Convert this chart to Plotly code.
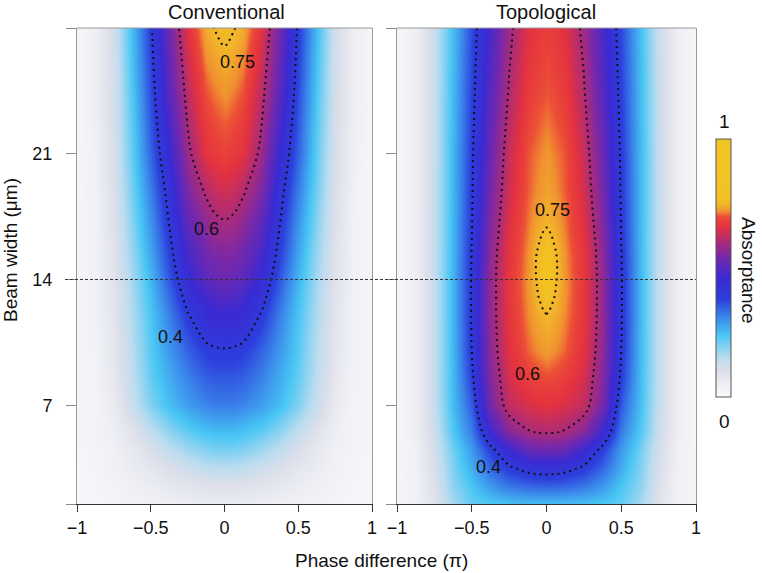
import plotly.graph_objects as go

# ---------------- data ----------------
phase = [-1.0, -0.875, -0.75, -0.625, -0.5, -0.375, -0.25, -0.125, -0.0625, 0.0,
         0.0625, 0.125, 0.25, 0.375, 0.5, 0.625, 0.75, 0.875, 1.0]
beam_width = [1.5, 2.5, 3.5, 4.5, 5.5, 7, 8.5, 10, 12, 13, 14, 15.5, 17, 19, 21, 24.5, 28]

absorp_conventional = [
    [0.012,0.018,0.026,0.034,0.041,0.048,0.054,0.058,0.060,0.060,0.060,0.058,0.054,0.048,0.041,0.034,0.026,0.018,0.012],
    [0.015,0.022,0.033,0.046,0.058,0.071,0.083,0.092,0.094,0.095,0.094,0.092,0.083,0.071,0.058,0.046,0.033,0.022,0.015],
    [0.015,0.025,0.040,0.060,0.080,0.102,0.125,0.143,0.148,0.150,0.148,0.143,0.125,0.102,0.080,0.060,0.040,0.025,0.015],
    [0.020,0.028,0.045,0.070,0.105,0.142,0.175,0.197,0.203,0.205,0.203,0.197,0.175,0.142,0.105,0.070,0.045,0.028,0.020],
    [0.020,0.030,0.050,0.090,0.140,0.187,0.222,0.243,0.248,0.250,0.248,0.243,0.222,0.187,0.140,0.090,0.050,0.030,0.020],
    [0.020,0.030,0.065,0.130,0.200,0.248,0.285,0.310,0.318,0.320,0.318,0.310,0.285,0.248,0.200,0.130,0.065,0.030,0.020],
    [0.020,0.035,0.075,0.145,0.220,0.268,0.315,0.348,0.353,0.355,0.353,0.348,0.315,0.268,0.220,0.145,0.075,0.035,0.020],
    [0.020,0.035,0.080,0.150,0.230,0.290,0.345,0.385,0.392,0.395,0.392,0.385,0.345,0.290,0.230,0.150,0.080,0.035,0.020],
    [0.020,0.040,0.085,0.160,0.240,0.315,0.395,0.445,0.456,0.460,0.456,0.445,0.395,0.315,0.240,0.160,0.085,0.040,0.020],
    [0.020,0.040,0.088,0.165,0.250,0.335,0.422,0.475,0.488,0.492,0.488,0.475,0.422,0.335,0.250,0.165,0.088,0.040,0.020],
    [0.020,0.040,0.090,0.170,0.260,0.355,0.450,0.505,0.520,0.525,0.520,0.505,0.450,0.355,0.260,0.170,0.090,0.040,0.020],
    [0.020,0.040,0.093,0.180,0.278,0.380,0.480,0.535,0.550,0.555,0.550,0.535,0.480,0.380,0.278,0.180,0.093,0.040,0.020],
    [0.020,0.040,0.097,0.192,0.295,0.400,0.510,0.565,0.585,0.592,0.585,0.565,0.510,0.400,0.295,0.192,0.097,0.040,0.020],
    [0.020,0.042,0.103,0.207,0.320,0.425,0.550,0.610,0.630,0.640,0.630,0.610,0.550,0.425,0.320,0.207,0.103,0.042,0.020],
    [0.020,0.045,0.110,0.220,0.345,0.455,0.585,0.660,0.675,0.685,0.675,0.660,0.585,0.455,0.345,0.220,0.110,0.045,0.020],
    [0.020,0.050,0.115,0.235,0.370,0.505,0.620,0.700,0.715,0.725,0.715,0.700,0.620,0.505,0.370,0.235,0.115,0.050,0.020],
    [0.020,0.050,0.120,0.250,0.390,0.530,0.660,0.740,0.752,0.760,0.752,0.740,0.660,0.530,0.390,0.250,0.120,0.050,0.020],
]

absorp_topological = [
    [0.020,0.040,0.090,0.170,0.220,0.235,0.245,0.250,0.250,0.250,0.250,0.250,0.245,0.235,0.220,0.170,0.090,0.040,0.020],
    [0.020,0.040,0.100,0.190,0.240,0.290,0.325,0.340,0.344,0.345,0.344,0.340,0.325,0.290,0.240,0.190,0.100,0.040,0.020],
    [0.020,0.045,0.105,0.200,0.270,0.340,0.390,0.420,0.428,0.430,0.428,0.420,0.390,0.340,0.270,0.200,0.105,0.045,0.020],
    [0.020,0.045,0.115,0.210,0.290,0.380,0.460,0.520,0.527,0.530,0.527,0.520,0.460,0.380,0.290,0.210,0.115,0.045,0.020],
    [0.020,0.050,0.125,0.235,0.320,0.460,0.560,0.595,0.602,0.605,0.602,0.595,0.560,0.460,0.320,0.235,0.125,0.050,0.020],
    [0.020,0.050,0.135,0.250,0.355,0.540,0.625,0.648,0.655,0.660,0.655,0.648,0.625,0.540,0.355,0.250,0.135,0.050,0.020],
    [0.020,0.050,0.135,0.255,0.385,0.555,0.642,0.680,0.690,0.696,0.690,0.680,0.642,0.555,0.385,0.255,0.135,0.050,0.020],
    [0.020,0.050,0.135,0.258,0.400,0.565,0.658,0.705,0.718,0.728,0.718,0.705,0.658,0.565,0.400,0.258,0.135,0.050,0.020],
    [0.020,0.050,0.135,0.260,0.405,0.570,0.667,0.718,0.738,0.748,0.738,0.718,0.667,0.570,0.405,0.260,0.135,0.050,0.020],
    [0.020,0.050,0.135,0.260,0.405,0.570,0.669,0.722,0.746,0.770,0.746,0.722,0.669,0.570,0.405,0.260,0.135,0.050,0.020],
    [0.020,0.050,0.135,0.260,0.405,0.570,0.670,0.724,0.753,0.785,0.753,0.724,0.670,0.570,0.405,0.260,0.135,0.050,0.020],
    [0.020,0.050,0.135,0.260,0.402,0.565,0.665,0.721,0.751,0.775,0.751,0.721,0.665,0.565,0.402,0.260,0.135,0.050,0.020],
    [0.020,0.050,0.135,0.259,0.397,0.552,0.655,0.713,0.735,0.748,0.735,0.713,0.655,0.552,0.397,0.259,0.135,0.050,0.020],
    [0.020,0.050,0.134,0.258,0.393,0.538,0.640,0.703,0.720,0.733,0.720,0.703,0.640,0.538,0.393,0.258,0.134,0.050,0.020],
    [0.020,0.050,0.133,0.258,0.390,0.525,0.630,0.700,0.713,0.725,0.713,0.700,0.630,0.525,0.390,0.258,0.133,0.050,0.020],
    [0.020,0.050,0.132,0.255,0.380,0.500,0.605,0.675,0.690,0.700,0.690,0.675,0.605,0.500,0.380,0.255,0.132,0.050,0.020],
    [0.020,0.050,0.130,0.250,0.370,0.480,0.585,0.655,0.670,0.680,0.670,0.655,0.585,0.480,0.370,0.250,0.130,0.050,0.020],
]

contour_levels = [0.4, 0.6, 0.75]
x_tickvals = [-1, -0.5, 0, 0.5, 1]
x_ticktext = ["\u22121", "\u22120.5", "0", "0.5", "1"]
y_tickvals = [1.5, 7, 14, 21, 28]
y_ticktext = ["", "7", "14", "21", ""]
panel_titles = ["Conventional", "Topological"]

# contour label text and positions (phase, beam width)
labels_conv = [("0.75", 0.088, 26.1), ("0.6", -0.12, 16.8), ("0.4", -0.365, 10.77)]
labels_topo = [("0.75", 0.037, 17.85), ("0.6", -0.13, 8.76), ("0.4", -0.39, 3.57)]

# ---------------- styling ----------------
W, H = 762, 573
FONT = "Liberation Sans, Arial, Helvetica, sans-serif"

colorscale = [
    [0.00, "#fafafc"],
    [0.05, "#eeeff4"],
    [0.10, "#dddfea"],
    [0.15, "#bcdcef"],
    [0.20, "#80d0f2"],
    [0.24, "#48c6f4"],
    [0.31, "#3a86ea"],
    [0.38, "#2c3edc"],
    [0.46, "#3a2ad2"],
    [0.54, "#7428ac"],
    [0.61, "#b42c70"],
    [0.66, "#e4323f"],
    [0.685, "#e8403a"],
    [0.70, "#ec5036"],
    [0.72, "#f09030"],
    [0.745, "#f2b42a"],
    [0.77, "#f2c222"],
    [1.00, "#f2c622"],
]

def px_x(p):
    return p / W

def px_y(p):
    return 1 - p / H

fig = go.Figure()

for i, z in enumerate([absorp_conventional, absorp_topological]):
    xa = "x" if i == 0 else "x2"
    ya = "y" if i == 0 else "y2"
    fig.add_trace(go.Heatmap(
        x=phase, y=beam_width, z=z, xaxis=xa, yaxis=ya,
        zmin=0, zmax=1, zsmooth="best", colorscale=colorscale,
        showscale=(i == 0),
        colorbar=dict(
            x=px_x(716), xanchor="left", xpad=0, ypad=0,
            y=px_y(268), yanchor="middle",
            len=258 / H, lenmode="fraction", thickness=15,
            showticklabels=False, ticks="",
            outlinewidth=1, outlinecolor="#555",
        ),
        hoverinfo="skip",
    ))
    for lvl in contour_levels:
        fig.add_trace(go.Contour(
            x=phase, y=beam_width, z=z, xaxis=xa, yaxis=ya,
            contours=dict(start=lvl, end=lvl, size=1, coloring="none"),
            line=dict(color="#111", width=2, dash="2px,4px", smoothing=1.0),
            showscale=False, hoverinfo="skip", showlegend=False,
        ))

axis_common_x = dict(
    range=[-1, 1], tickvals=x_tickvals, ticktext=x_ticktext,
    ticks="outside", ticklen=7, tickcolor="#333", tickwidth=1,
    showline=True, linecolor="#333", linewidth=1,
    showgrid=False, zeroline=False,
    tickfont=dict(family=FONT, size=18, color="#111"),
)
axis_common_y = dict(
    range=[1.5, 28], tickvals=y_tickvals, ticktext=y_ticktext,
    ticks="outside", ticklen=10, tickcolor="#888", tickwidth=1,
    showline=True, linecolor="#999", linewidth=1, mirror=True,
    showgrid=False, zeroline=False,
    tickfont=dict(family=FONT, size=18, color="#111"),
)

ydom = [px_y(504), px_y(28)]
fig.update_layout(
    width=W, height=H,
    margin=dict(l=0, r=0, t=0, b=0, autoexpand=False),
    paper_bgcolor="white", plot_bgcolor="white",
    font=dict(family=FONT, size=18, color="#111"),
    xaxis=dict(domain=[px_x(77), px_x(372)], anchor="y", **axis_common_x),
    xaxis2=dict(domain=[px_x(397), px_x(696)], anchor="y2", **axis_common_x),
    yaxis=dict(domain=ydom, anchor="x", ticklabelstandoff=10, **axis_common_y),
    yaxis2=dict(domain=ydom, anchor="x2", showticklabels=False, **axis_common_y),
    showlegend=False,
)

shapes = []
for xr, yr in [("x domain", "y domain"), ("x2 domain", "y2 domain")]:
    shapes.append(dict(type="line", xref=xr, yref=yr, x0=0, x1=1, y0=1, y1=1,
                       line=dict(color="#999", width=1)))
shapes.append(dict(type="line", xref="paper", yref="y", x0=px_x(65), x1=px_x(696),
                   y0=14, y1=14, line=dict(color="#333", width=1, dash="3px,2px")))
fig.update_layout(shapes=shapes)

ann = []
ann.append(dict(text=panel_titles[0], x=px_x(226), y=px_y(12), xref="paper", yref="paper",
                showarrow=False, font=dict(size=20), xanchor="center", yanchor="middle"))
ann.append(dict(text=panel_titles[1], x=px_x(546), y=px_y(12), xref="paper", yref="paper",
                showarrow=False, font=dict(size=20), xanchor="center", yanchor="middle"))
ann.append(dict(text="Phase difference (\u03c0)", x=px_x(381), y=px_y(560), xref="paper", yref="paper",
                showarrow=False, font=dict(size=19), xanchor="center", yanchor="middle"))
ann.append(dict(text="Beam width (\u03bcm)", x=px_x(10), y=px_y(250), xref="paper", yref="paper",
                showarrow=False, font=dict(size=19), textangle=-90, xanchor="center", yanchor="middle"))
ann.append(dict(text="1", x=px_x(724), y=px_y(122), xref="paper", yref="paper",
                showarrow=False, font=dict(size=19), xanchor="center", yanchor="middle"))
ann.append(dict(text="0", x=px_x(724), y=px_y(421), xref="paper", yref="paper",
                showarrow=False, font=dict(size=19), xanchor="center", yanchor="middle"))
ann.append(dict(text="Absorptance", x=px_x(748), y=px_y(270), xref="paper", yref="paper",
                showarrow=False, font=dict(size=19), textangle=90, xanchor="center", yanchor="middle"))
for t, xv, yv in labels_conv:
    ann.append(dict(text=t, x=xv, y=yv, xref="x", yref="y", showarrow=False, font=dict(size=18)))
for t, xv, yv in labels_topo:
    ann.append(dict(text=t, x=xv, y=yv, xref="x2", yref="y2", showarrow=False, font=dict(size=18)))
fig.update_layout(annotations=ann)

fig.write_html("out.html", config={"displayModeBar": False},
               post_script="document.body.style.margin='0px';document.body.style.padding='0px';")
